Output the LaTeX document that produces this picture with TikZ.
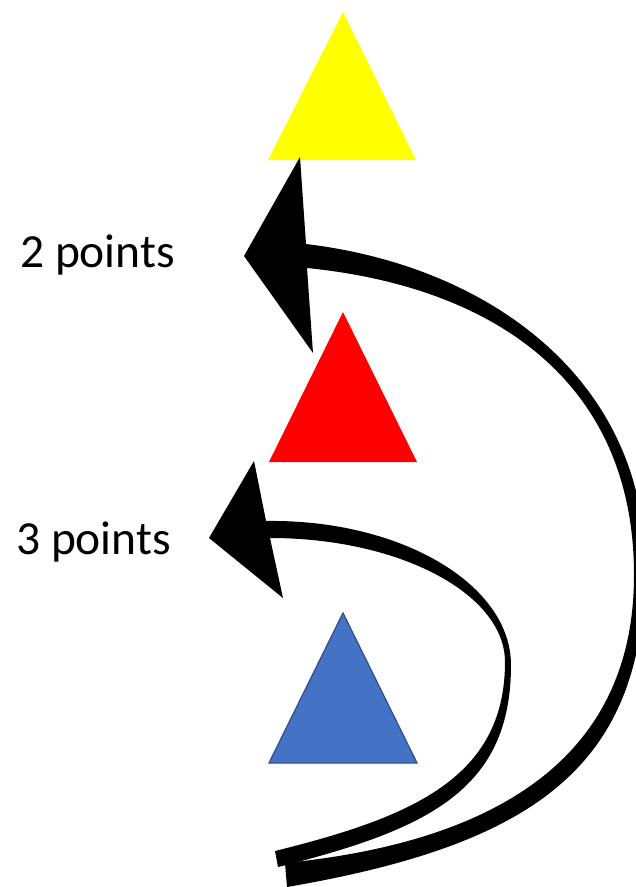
\documentclass[tikz,border=0pt]{standalone}
\usepackage{fontspec}
\setmainfont{Carlito}
\definecolor{triblue}{HTML}{4472C4}
\definecolor{triblueline}{HTML}{2F528F}
\definecolor{triyellow}{HTML}{FFFF00}
\definecolor{trired}{HTML}{FF0000}
\begin{document}
\begin{tikzpicture}[x=1pt,y=-1pt,
  lbl/.style={anchor=base west,inner sep=0pt,font=\fontsize{47.5}{56}\selectfont},
  band/.style={fill=black}]
\useasboundingbox (0,0) rectangle (636,887);
% triangles
\fill[triyellow] (343,12) -- (416,160) -- (268,160) -- cycle;
\fill[trired] (343,312) -- (417,462) -- (269,462) -- cycle;
\filldraw[fill=triblue,draw=triblueline,line width=1.3pt] (343,613) -- (417,763) -- (269,763) -- cycle;
% big curved arrow (2 points)
\fill[band] (306,244) -- (300,157) -- (244,256) -- (313,353) -- (307,268)
  .. controls (492,286.5) and (634,380) .. (634,575)
  .. controls (634,705) and (565,835) .. (285,863)
  -- (287,887)
  .. controls (537,844) and (645,765) .. (645,565)
  .. controls (645,385) and (496,266.8) .. (306,244)
  -- cycle;
% small curved arrow (3 points)
\fill[band] (266,521) -- (254,461) -- (209,538) -- (283,598) -- (270,538)
  .. controls (400,538) and (505,594) .. (505,662)
  .. controls (505,778) and (412,817) .. (275,851)
  -- (278,867)
  .. controls (428,829.5) and (511,790) .. (511,665)
  .. controls (511,584) and (400,519) .. (266,521)
  -- cycle;
% labels
\node[lbl] (two) at (20,267) {2 points};
\node[lbl] (three) at (16,554) {3 points};
\end{tikzpicture}
\end{document}
